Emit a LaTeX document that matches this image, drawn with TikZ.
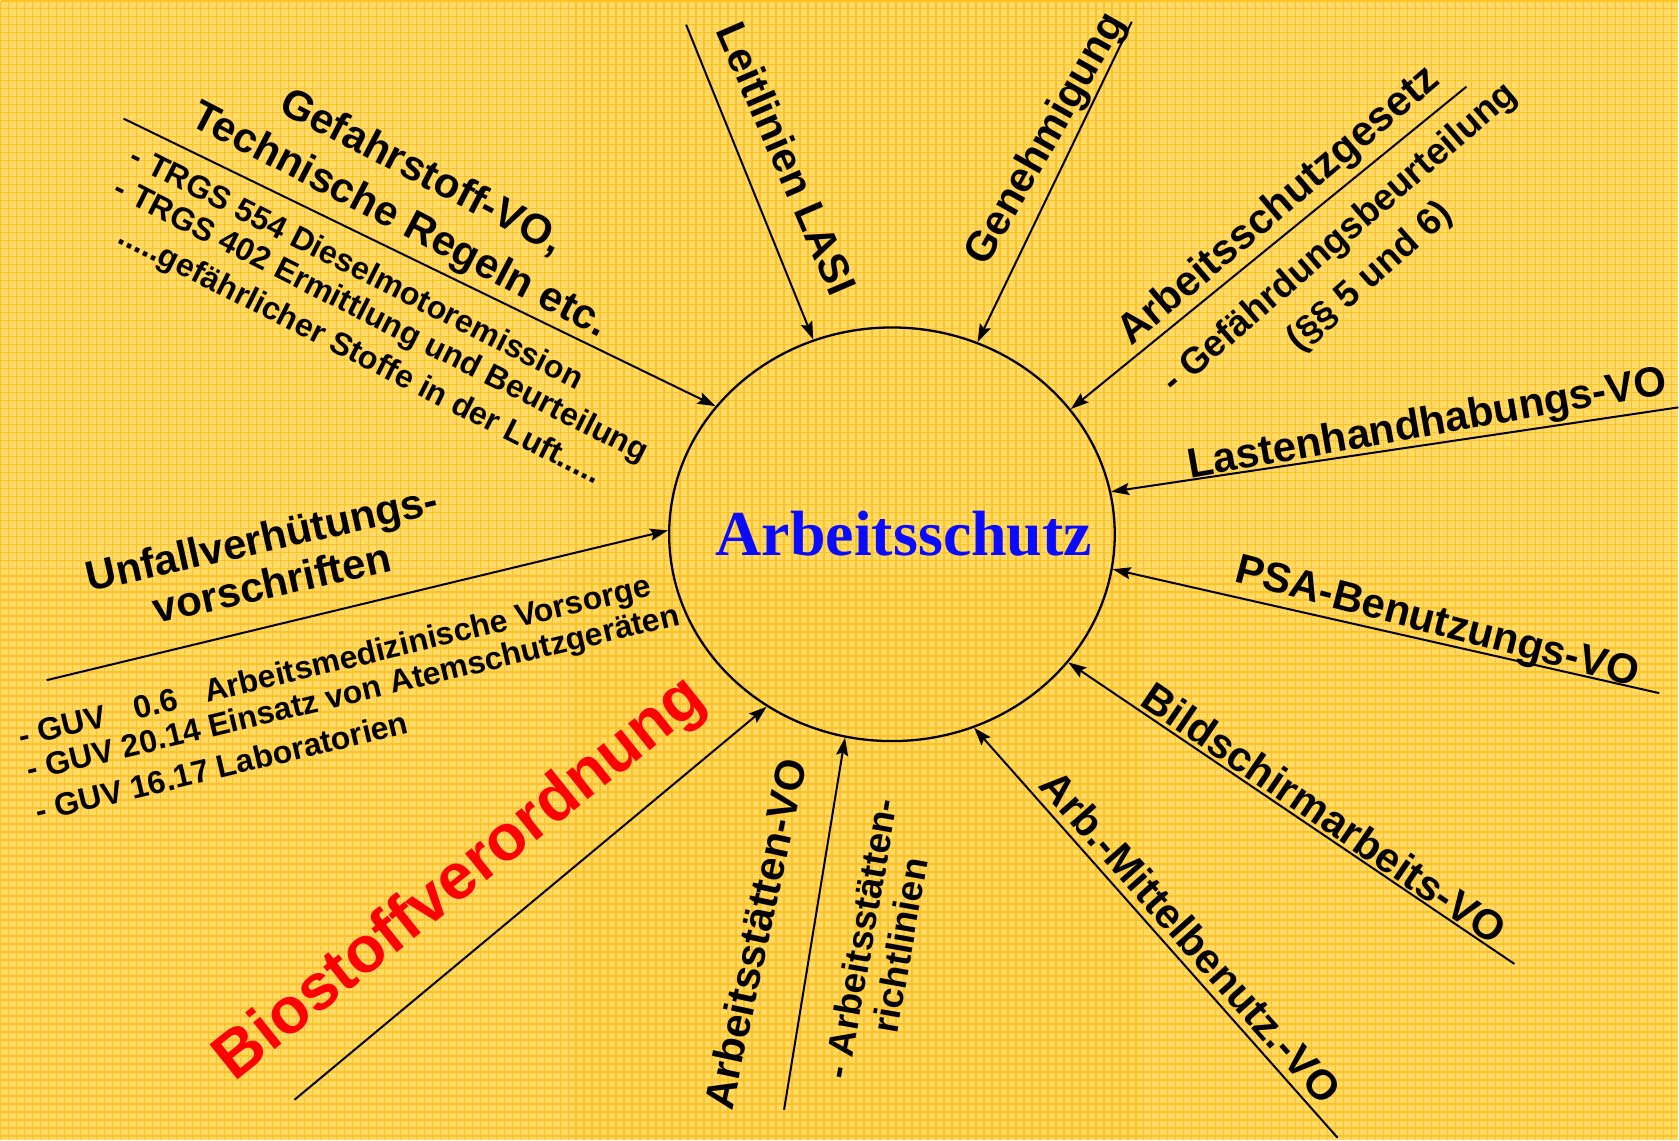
\documentclass[tikz,border=0pt]{standalone}
\usepackage{fontspec}
\setmainfont{Liberation Sans}
\newfontfamily\timesfont{Liberation Serif}
\usetikzlibrary{shapes.geometric,arrows.meta}
\definecolor{bgcol}{RGB}{255,218,104}
\definecolor{gridcol}{RGB}{255,194,34}
\definecolor{titleblue}{RGB}{10,10,255}
\definecolor{biored}{RGB}{255,0,0}
\begin{document}
\begin{tikzpicture}[x=1pt,y=1pt,
  lbl/.style={font=\bfseries\fontsize{42}{46}\selectfont, inner sep=0pt},
  sml/.style={font=\bfseries\fontsize{32}{35}\selectfont, inner sep=0pt},
  mid/.style={font=\bfseries\fontsize{37}{40}\selectfont, inner sep=0pt, align=center},
  arr/.style={line width=2pt, -{Stealth[length=18pt,width=12pt,inset=3pt]}},
]
\fill[bgcol] (0,0) rectangle (1679,-1140);
\draw[gridcol, line width=1.5pt, step=8] (0,0) grid (1679,-1140);
\useasboundingbox (0,0) rectangle (1679,-1140);

% central circle
\node[ellipse, draw, line width=2.3pt, minimum width=446pt, minimum height=414pt, inner sep=0pt] (c) at (892,-534) {};
\node[font=\timesfont\bfseries\fontsize{64}{70}\selectfont, text=titleblue, inner sep=0pt] (t) at (904,-533) {Arbeitsschutz};

% start points of connectors
\coordinate (p1) at (123,-118);
\coordinate (p2) at (686,-24);
\coordinate (p3) at (1132,-21);
\coordinate (p4) at (1467,-86);
\coordinate (p5) at (1679,-407);
\coordinate (p6) at (1660,-693);
\coordinate (p7) at (1515,-964);
\coordinate (p8) at (1338,-1138);
\coordinate (p9) at (784,-1110);
\coordinate (p10) at (294,-1100);
\coordinate (p11) at (46,-680);

\draw[arr] (p1) -- (c.144);
\draw[arr] (p2) -- (c.112.6);
\draw[arr] (p3) -- (c.66.1);
\draw[arr] (p4) -- (c.35.4);
\draw[arr] (p5) -- (c.11.7);
\draw[arr] (p6) -- (c.-9);
\draw[arr] (p7) -- (c.-36);
\draw[arr] (p8) -- (c.-67);
\draw[arr] (p9) -- (c.-103.9);
\draw[arr] (p10) -- (c.-126.8);
\draw[arr] (p11) -- (c.179.7);

% labels
\node[lbl, rotate=-27.5] (gef1) at (421,-172) {Gefahrstoff-VO,};
\node[lbl, rotate=-27.5] (gef2) at (399,-221) {Technische Regeln etc.};
\node[sml, rotate=-26.8] (trgs1) at (357,-266) {- TRGS 554 Dieselmotoremission};
\node[sml, rotate=-26.8] (trgs2) at (380,-321) {- TRGS 402 Ermittlung und Beurteilung};
\node[sml, rotate=-26.8] (trgs3) at (359,-356) {.....gefährlicher Stoffe in der Luft.....};

\node[lbl, rotate=-66.7] (leit) at (787,-158) {Leitlinien LASI};
\node[lbl, rotate=60.5] (gen) at (1047,-139) {Genehmigung};
\node[lbl, rotate=40.4] (asg) at (1280,-206) {Arbeitsschutzgesetz};
\node[mid, rotate=40.8] (gb) at (1341,-238) {- Gefährdungsbeurteilung};
\node[mid, rotate=41.5] (par) at (1371,-277) {(§§ 5 und 6)};

\node[lbl, rotate=10] (last) at (1428,-425) {Lastenhandhabungs-VO};
\node[lbl, rotate=-14.6] (psa) at (1437,-624) {PSA-Benutzungs-VO};
\node[lbl, rotate=-34.3] (bild) at (1325,-813) {Bildschirmarbeits-VO};
\node[lbl, rotate=-48.4] (amb) at (1191,-937) {Arb.-Mittelbenutz.-VO};
\node[lbl, rotate=77.8] (ast) at (755,-934) {Arbeitsstätten-VO};
\node[mid, rotate=80] (astr) at (880,-942) {- Arbeitsstätten-\\richtlinien};

\node[font=\bfseries\fontsize{65}{70}\selectfont, text=biored, inner sep=0pt, rotate=38.6] (bio) at (461,-880) {Biostoffverordnung};

\node[lbl, rotate=12.7, align=center] (uvv) at (266,-560) {Unfallverhütungs-\\vorschriften};
\node[sml, rotate=13.5, anchor=west] (guv1) at (19,-739) {- GUV\hspace{0.9em}0.6\hspace{0.9em}Arbeitsmedizinische Vorsorge};
\node[sml, rotate=13.5, anchor=west] (guv2) at (27,-773) {- GUV 20.14 Einsatz von Atemschutzgeräten};
\node[sml, rotate=13.5, anchor=west] (guv3) at (35,-811) {- GUV 16.17 Laboratorien};
\end{tikzpicture}
\end{document}
